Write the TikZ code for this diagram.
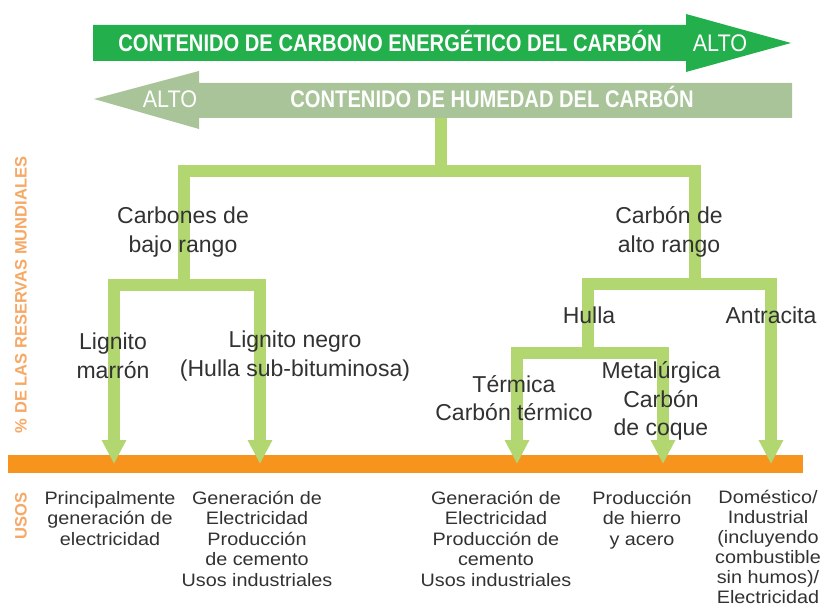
\documentclass[tikz,border=0pt]{standalone}
\usepackage{fontspec}
\setmainfont{Liberation Sans}
\newfontfamily\bannerfont[FakeStretch=0.84]{Liberation Sans}
\newfontfamily\altofont[FakeStretch=0.9]{Liberation Sans}
\newfontfamily\usesfont[FakeStretch=1.1]{Liberation Sans}
\usetikzlibrary{arrows.meta}
\definecolor{darkgreen}{RGB}{35,176,76}
\definecolor{sage}{RGB}{168,196,152}
\definecolor{treegreen}{RGB}{178,214,112}
\definecolor{barorange}{RGB}{247,148,30}
\definecolor{axisorange}{RGB}{246,168,100}
\definecolor{txt}{RGB}{50,50,50}
\begin{document}
\begin{tikzpicture}[x=1pt,y=-1pt,
  tree/.style={draw=treegreen,line width=12pt,line cap=butt,line join=miter},
  treearrow/.style={tree,-{Triangle[width=23pt,length=24pt]}},
  lbl/.style={text=txt,font=\fontsize{23}{28.5}\selectfont,align=center,inner sep=0pt},
  uselbl/.style={text=txt,font=\usesfont\fontsize{18}{20.5}\selectfont,align=center,inner sep=0pt,anchor=north},
  banner/.style={text=white,font=\bannerfont\bfseries\fontsize{24}{24}\selectfont,inner sep=0pt,anchor=base},
  alto/.style={text=white,font=\altofont\fontsize{24}{24}\selectfont,inner sep=0pt,anchor=base},
  axislbl/.style={text=axisorange,font=\bfseries\fontsize{16.5}{16.5}\selectfont,rotate=90,inner sep=0pt}]
\fill[white] (0,0) rectangle (827,607);
\useasboundingbox (0,0) rectangle (827,607);

% banners
\fill[darkgreen] (93,25) -- (686,25) -- (686,14) -- (791,43) -- (686,72) -- (686,61) -- (93,61) -- cycle;
\fill[sage] (94,99) -- (199,71) -- (199,83) -- (792,83) -- (792,118) -- (199,118) -- (199,129) -- cycle;
\node[banner] (energy) at (390,52) {CONTENIDO DE CARBONO ENERGÉTICO DEL CARBÓN};
\node[alto] (alto1) at (720,52) {ALTO};
\node[alto] (alto2) at (170,108) {ALTO};
\node[banner] (humid) at (492,108) {CONTENIDO DE HUMEDAD DEL CARBÓN};

% orange bar
\node[fill=barorange,minimum width=795pt,minimum height=18pt,inner sep=0pt,anchor=north west] (bar) at (8,455) {};

% tree coordinates
\coordinate (t0) at (441,118);
\coordinate (t1) at (441,171);
\coordinate (topL) at (184,171);
\coordinate (topR) at (695,171);
\coordinate (lowL) at (184,285);
\coordinate (lowR) at (695,284);
\coordinate (lla) at (114,285);
\coordinate (llb) at (260,285);
\coordinate (tipA) at (114,464);
\coordinate (tipB) at (260,464);
\coordinate (rh) at (588,284);
\coordinate (hj) at (588,353);
\coordinate (rt) at (517,353);
\coordinate (rm) at (663,353);
\coordinate (ra) at (771,284);
\coordinate (tipC) at (517,464);
\coordinate (tipD) at (663,464);
\coordinate (tipE) at (771,464);

\draw[tree] (t0) -- (t1);
\draw[tree] (lowL) -- (topL) -- (topR) -- (lowR);
\draw[treearrow] (lowL) -- (lla) -- (tipA);
\draw[treearrow] (lowL) -- (llb) -- (tipB);
\draw[tree] (lowR) -- (rh) -- (hj);
\draw[treearrow] (hj) -- (rt) -- (tipC);
\draw[treearrow] (hj) -- (rm) -- (tipD);
\draw[treearrow] (lowR) -- (ra) -- (tipE);

% labels
\node[lbl] (bajo) at (183,232) {Carbones de\\bajo rango};
\node[lbl] (alto) at (669,232) {Carbón de\\alto rango};
\node[lbl] (hulla) at (589,315) {Hulla};
\node[lbl] (antra) at (771,315) {Antracita};
\node[lbl] (marron) at (113,356) {Lignito\\marrón};
\node[lbl] (negro) at (295,356) {Lignito negro\\(Hulla sub-bituminosa)};
\node[lbl] (termica) at (514,398) {Térmica\\Carbón térmico};
\node[lbl] (metal) at (661,401) {Metalúrgica\\Carbón\\de coque};

% uses
\node[uselbl] (u1) at (110,491) {Principalmente\\generación de\\electricidad};
\node[uselbl] (u2) at (257,491) {Generación de\\Electricidad\\Producción\\de cemento\\Usos industriales};
\node[uselbl] (u3) at (496,491) {Generación de\\Electricidad\\Producción de\\cemento\\Usos industriales};
\node[uselbl] (u4) at (642,491) {Producción\\de hierro\\y acero};
\node[uselbl,font=\usesfont\fontsize{18}{20}\selectfont] (u5) at (768,490) {Doméstico/\\Industrial\\(incluyendo\\combustible\\sin humos)/\\Electricidad};

% axis labels
\node[axislbl] (reservas) at (21,295) {\% DE LAS RESERVAS MUNDIALES};
\node[axislbl] (usos) at (21,516) {USOS};
\end{tikzpicture}
\end{document}
